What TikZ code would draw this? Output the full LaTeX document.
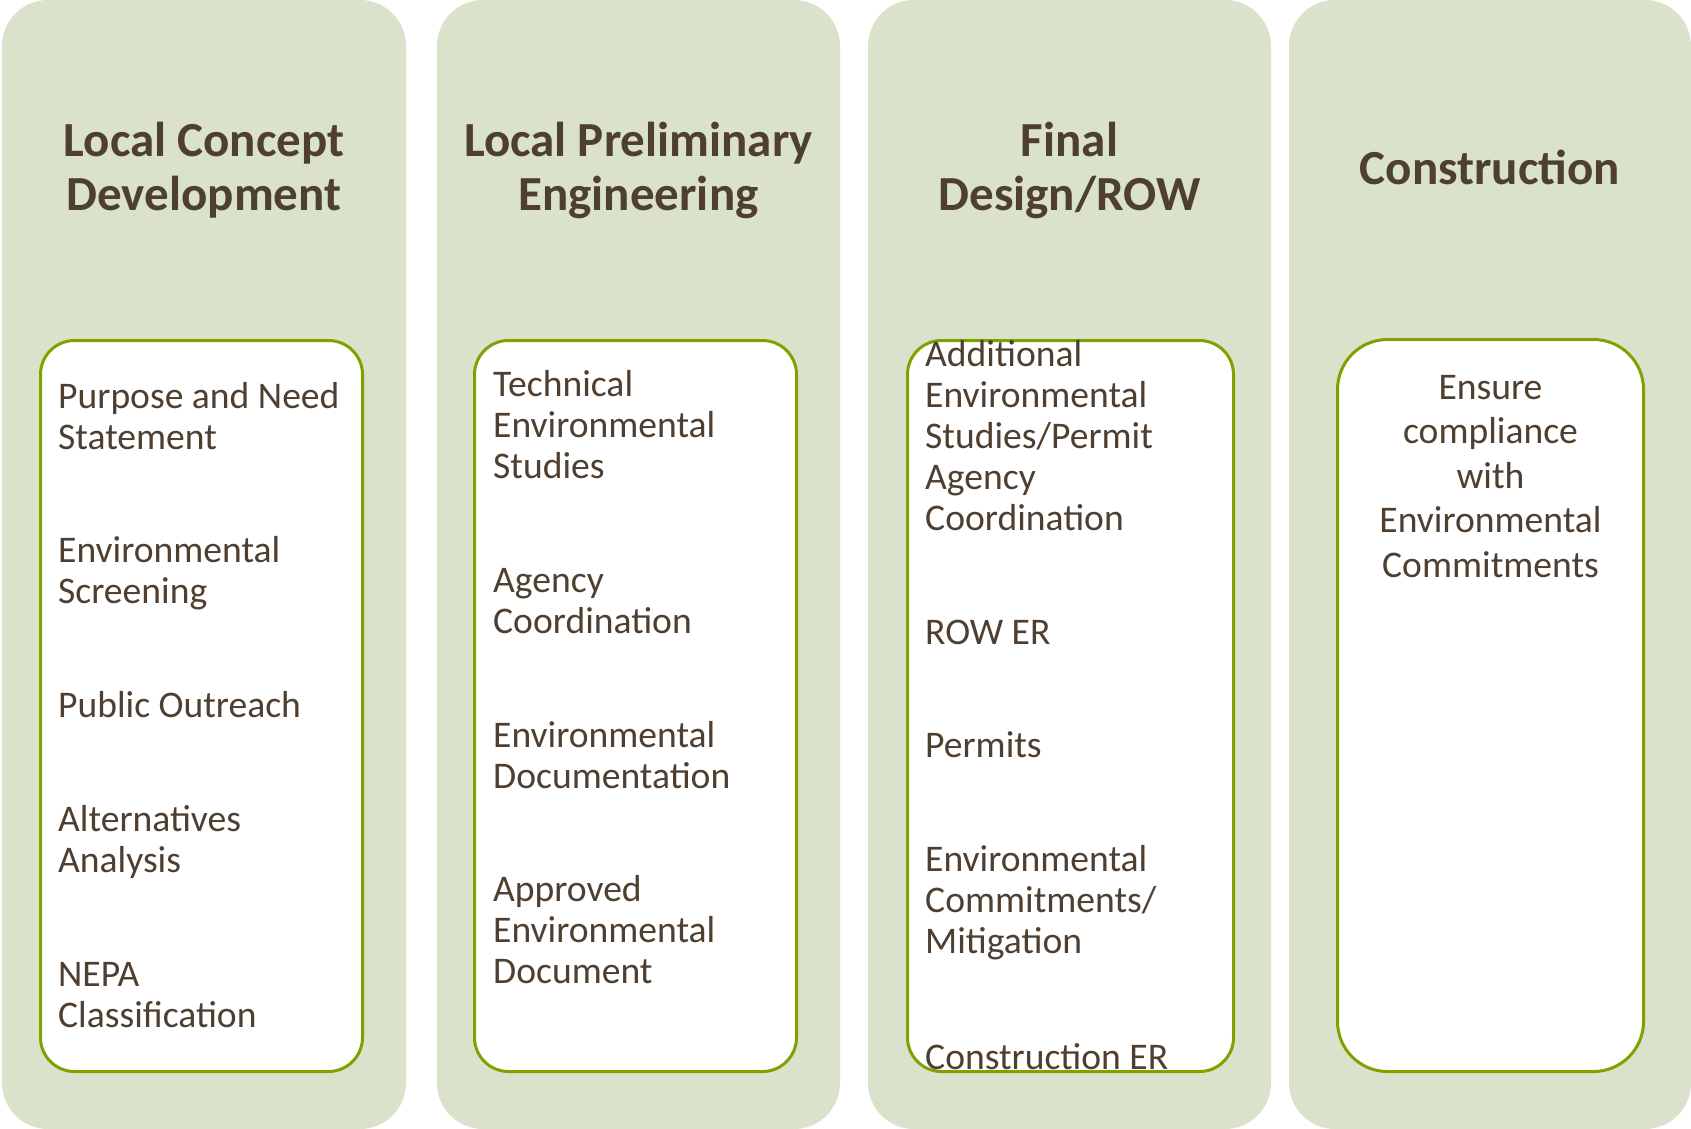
\documentclass[tikz,border=0pt]{standalone}
\usepackage{fontspec}
\setmainfont{Carlito}
\definecolor{panelfill}{RGB}{218,226,203}
\definecolor{boxline}{RGB}{128,162,0}
\definecolor{txt}{RGB}{78,63,48}
\begin{document}
\begin{tikzpicture}[x=1pt,y=-1pt,
  panel/.style={fill=panelfill, draw=none, rounded corners=46pt, inner sep=0pt,
    minimum height=1129pt},
  listbox/.style={fill=white, draw=boxline, line width=3pt, rounded corners=34pt,
    inner sep=0pt, minimum height=731pt},
  title/.style={text=txt, inner sep=0pt, anchor=base, align=center,
    font=\fontsize{49}{53.3}\selectfont\bfseries},
  item/.style={text=txt, inner sep=0pt, anchor=base west, align=left,
    font=\fontsize{37.6}{41}\selectfont},
  citem/.style={text=txt, inner sep=0pt, anchor=base, align=center,
    font=\fontsize{37.6}{44.5}\selectfont}]
\useasboundingbox (0,0) rectangle (1691,1129);

% columns
\node[panel, minimum width=404pt] (col1) at (204,564.5) {};
\node[panel, minimum width=403pt] (col2) at (638.5,564.5) {};
\node[panel, minimum width=403pt] (col3) at (1069.5,564.5) {};
\node[panel, minimum width=402pt] (col4) at (1490,564.5) {};

% inner boxes
\node[listbox, minimum width=322pt] (box1) at (201.5,706) {};
\node[listbox, minimum width=322pt] (box2) at (635.5,706) {};
\node[listbox, minimum width=326pt] (box3) at (1070.5,706) {};
\node[listbox, rounded corners=50pt, minimum width=306pt, minimum height=732pt] (box4) at (1490.5,705.5) {};

% titles (anchor = baseline of last line)
\node[title] (t1) at (204,210) {Local Concept\\Development};
\node[title] (t2) at (638.5,210) {Local Preliminary\\Engineering};
\node[title] (t3) at (1069.5,210) {Final\\Design/ROW};
\node[title] (t4) at (1490,184) {Construction};

% column 1 items
\node[item] (a1) at (58,449) {Purpose and Need\\Statement};
\node[item] (a2) at (58,603) {Environmental\\Screening};
\node[item] (a3) at (58,717) {Public Outreach};
\node[item] (a4) at (58,872) {Alternatives\\Analysis};
\node[item] (a5) at (58,1027) {NEPA\\Classification};

% column 2 items
\node[item] (b1) at (493,478) {Technical\\Environmental\\Studies};
\node[item] (b2) at (493,633) {Agency\\Coordination};
\node[item] (b3) at (493,788) {Environmental\\Documentation};
\node[item] (b4) at (493,983) {Approved\\Environmental\\Document};

% column 3 items
\node[item] (c1) at (925,530) {Additional\\Environmental\\Studies/Permit\\Agency\\Coordination};
\node[item] (c2) at (925,644) {ROW ER};
\node[item] (c3) at (925,757) {Permits};
\node[item] (c4) at (925,953) {Environmental\\Commitments/\\Mitigation};
\node[item] (c5) at (925,1069) {Construction ER};

% column 4 item
\node[citem] (d1) at (1490.5,577) {Ensure\\compliance\\with\\Environmental\\Commitments};
\end{tikzpicture}
\end{document}
